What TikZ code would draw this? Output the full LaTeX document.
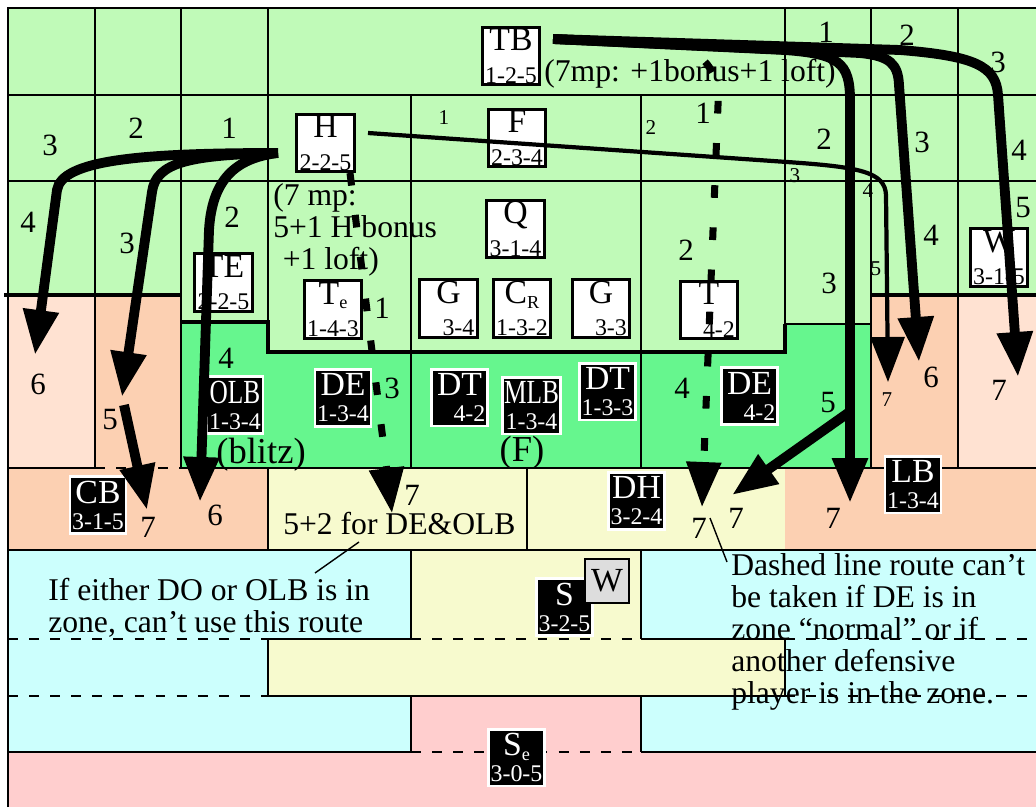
\documentclass[tikz,border=0pt]{standalone}
\usepackage{fontspec}
\setmainfont{Liberation Serif}
\usetikzlibrary{arrows.meta}

\definecolor{cturf}{RGB}{192,250,184}
\definecolor{cblitz}{RGB}{102,246,142}
\definecolor{cpeach}{RGB}{255,226,210}
\definecolor{csalmon}{RGB}{252,208,178}
\definecolor{ccream}{RGB}{247,250,206}
\definecolor{csky}{RGB}{204,255,253}
\definecolor{crose}{RGB}{255,206,206}
\definecolor{cwgray}{RGB}{221,221,221}

\newcommand\boxtop{\fontsize{24}{24}\selectfont}
\newcommand\subidx[1]{\raisebox{-0.3ex}{\fontsize{13}{13}\selectfont #1}}
\newcommand\narrow[1]{\scalebox{0.75}[1]{#1}}

\begin{document}
\begin{tikzpicture}[x=0.025cm, y=-0.025cm,
  zline/.style  = {line width=1.5pt},
  fence/.style  = {line width=3pt},
  zdash/.style  = {line width=1.5pt, dash pattern=on 7pt off 8pt},
  obox/.style   = {draw, line width=2pt, fill=white, minimum width=1.43cm,
                   minimum height=1.43cm, inner sep=1pt, align=center,
                   font=\fontsize{17}{23}\selectfont},
  dbox/.style   = {obox, draw=white, fill=black, text=white, minimum width=1.4cm,
                   minimum height=1.42cm, font=\fontsize{17}{18.5}\selectfont},
  num/.style    = {font=\fontsize{22}{23}\selectfont, inner sep=0pt},
  sml/.style    = {font=\fontsize{15}{17}\selectfont, inner sep=0pt},
  memo/.style   = {font=\fontsize{22.5}{22.8}\selectfont, align=left, inner sep=0pt},
  route/.style  = {line width=7pt, -{Triangle[width=24pt,length=32pt]}},
  thin/.style   = {line width=3pt, -{Triangle[width=24pt,length=32pt]}},
  dashroute/.style = {line width=5pt, dash pattern=on 9pt off 21pt,
                   -{Triangle[width=24pt,length=32pt]}}
]
  \useasboundingbox (0,0) rectangle (1036,807);

  % Zones
  \fill[cturf] (8,8) -- (1036,8) -- (1036,295) -- (871,295) -- (871,324) -- (785,324)
    -- (785,352) -- (268,352) -- (268,322) -- (181,322) -- (181,295) -- (8,295) -- cycle;
  \fill[cblitz] (181,322) -- (268,322) -- (268,352) -- (785,352) -- (785,324)
    -- (871,324) -- (871,468) -- (181,468) -- cycle;
  \fill[cpeach] (8,295) rectangle (95,468);
  \fill[csalmon] (95,295) rectangle (181,468);
  \fill[csalmon] (871,295) rectangle (958,468);
  \fill[cpeach] (958,295) rectangle (1036,468);
  \fill[csalmon] (8,468) rectangle (268,550);
  \fill[ccream] (268,468) rectangle (785,550);
  \fill[csalmon] (785,468) rectangle (1036,550);
  \fill[csky] (8,550) -- (411,550) -- (411,639) -- (268,639) -- (268,696) -- (411,696)
    -- (411,752) -- (8,752) -- cycle;
  \fill[ccream] (411,550) rectangle (641,639);
  \fill[ccream] (268,639) rectangle (785,696);
  \fill[csky] (641,550) -- (1036,550) -- (1036,752) -- (641,752) -- (641,696) -- (785,696)
    -- (785,639) -- (641,639) -- cycle;
  \fill[crose] (411,696) rectangle (641,752);
  \fill[crose] (8,752) rectangle (1036,807);

  % Notes
  \node[memo, anchor=north west] (ifn) at (48,578) {If either DO or OLB is in\\zone, can’t use this route};
  \node[memo, anchor=north west] (dln) at (731,553) {Dashed line route can’t\\be taken if DE is in\\zone “normal” or if\\another defensive\\player is in the zone.};
  \node[memo, anchor=north west] (hmp) at (273,183) {(7 mp:\\5+1 H bonus\\\hspace{0.3em}+1 loft)};
  \node[memo, anchor=base west] (tbmp) at (544,82) {(7mp: +1bonus+1 loft)};
  \node[memo, anchor=base west] (plus) at (283,534) {5+2 for DE\&OLB};
  \node[font=\fontsize{26}{28}\selectfont, inner sep=0pt] (blz) at (261,455) {(blitz)};
  \node[font=\fontsize{26}{28}\selectfont, inner sep=0pt] (fre) at (522,453) {(F)};

  % Grid
  \draw[zline] (8,807) -- (8,8) -- (1036,8);
  \draw[zline] (8,95) -- (1036,95) (8,181) -- (1036,181);
  \draw[zline] (95,8) -- (95,468) (181,8) -- (181,468) (268,8) -- (268,322)
    (411,95) -- (411,468) (641,95) -- (641,468) (785,8) -- (785,324)
    (871,8) -- (871,468) (958,8) -- (958,468);
  \draw[zline] (785,324) -- (871,324);
  \draw[fence] (181,322) -- (268,322) -- (268,352) -- (785,352) -- (785,324);
  \draw[fence] (4,295) -- (181,295) (871,295) -- (1036,295);
  \draw[zline] (8,468) -- (95,468) (181,468) -- (1036,468);
  \draw[zdash] (95,468) -- (181,468);
  \draw[zline] (268,468) -- (268,550) (527,468) -- (527,550);
  \draw[zline] (8,550) -- (1036,550);
  \draw[zline] (411,550) -- (411,639) (641,550) -- (641,639);
  \draw[zdash] (8,639) -- (268,639) (411,639) -- (641,639) (785,639) -- (1036,639);
  \draw[zline] (268,639) -- (411,639) (641,639) -- (785,639);
  \draw[zline] (268,639) -- (268,696) (785,639) -- (785,696);
  \draw[zdash] (8,696) -- (268,696) (785,696) -- (1036,696);
  \draw[zline] (268,696) -- (785,696);
  \draw[zline] (411,696) -- (411,752) (641,696) -- (641,752);
  \draw[zline] (8,752) -- (411,752) (641,752) -- (1036,752);
  \draw[zdash] (411,752) -- (641,752);

  % Zone numbers
  \foreach \px/\py/\t [count=\i] in {826/32/1, 907/35/2, 998/62/3, 50/145/3, 136/128/2,
      229/128/1, 703/113/1, 824/139/2, 922/142/3, 1019/150/4, 28/222/4, 127/243/3,
      232/217/2, 686/250/2, 931/235/4, 1023/208/5, 829/283/3, 382/308/1, 38/384/6,
      110/420/5, 226/358/4, 392/388/3, 682/388/4, 828/403/5, 931/377/6, 999/390/7,
      148/527/7, 215/515/6, 412/495/7, 699/528/7, 736/518/7, 833/518/7}
    \node[num] (z\i) at (\px,\py) {\t};
  \foreach \px/\py/\t [count=\i] in {444/118/1, 651/128/2, 795/176/3, 868/191/4,
      876/269/5, 887/400/7}
    \node[sml] (s\i) at (\px,\py) {\t};

  % Offense
  \node[obox] (tb)  at (511,56)    {\boxtop TB\\1-2-5};
  \node[obox] (hb)  at (325.5,143) {\boxtop H\\2-2-5};
  \node[obox] (fb)  at (517,138)   {\boxtop F\\2-3-4};
  \node[obox] (qb)  at (515.5,229) {\boxtop Q\\3-1-4};
  \node[obox] (te)  at (223.5,282.5) {\boxtop TE\\2-2-5};
  \node[obox] (tel) at (333,309.5) {\boxtop T\subidx{e}\\1-4-3};
  \node[obox] (gl)  at (448.5,308.5) {\boxtop G\\\hphantom{1-}3-4};
  \node[obox] (cr)  at (522,308.5) {\boxtop C\subidx{R}\\1-3-2};
  \node[obox] (gr)  at (601,308.5) {\boxtop G\\\hphantom{1-}3-3};
  \node[obox] (tr)  at (709,310)   {\boxtop T\\\hphantom{1-}4-2};
  \node[obox] (wr)  at (999,257.5) {\boxtop W\\3-1-5};

  % Defense
  \node[dbox] (olb) at (235,405)     {\boxtop \narrow{OLB}\\1-3-4};
  \node[dbox] (del) at (343,398)     {\boxtop DE\\1-3-4};
  \node[dbox] (dtl) at (459.5,397.5) {\boxtop DT\\\hphantom{1-}4-2};
  \node[dbox] (mlb) at (531.5,405.5) {\boxtop \narrow{MLB}\\1-3-4};
  \node[dbox] (dtr) at (607.5,391.5) {\boxtop DT\\1-3-3};
  \node[dbox] (der) at (749.5,396)   {\boxtop DE\\\hphantom{1-}4-2};
  \node[dbox] (cb)  at (98,505)      {\boxtop CB\\3-1-5};
  \node[dbox] (dh)  at (636.5,501)   {\boxtop DH\\3-2-4};
  \node[dbox] (lb)  at (913,484.5)   {\boxtop LB\\1-3-4};
  \node[dbox] (sf)  at (564.5,607)   {\boxtop S\\3-2-5};
  \node[obox, fill=cwgray, minimum width=1.1cm, minimum height=1.1cm] (wg) at (607,581) {\boxtop W};
  \node[dbox] (se)  at (516.5,757.5) {\boxtop S\subidx{e}\\3-0-5};

  % Route points
  \coordinate (hl)  at (278,153);
  \coordinate (hr)  at (368,133);
  \coordinate (hd)  at (350,173);
  \coordinate (tbr) at (553,39);
  \coordinate (td)  at (668,43);
  \coordinate (a6)  at (35,355);
  \coordinate (a5)  at (122,397);
  \coordinate (b5)  at (124,405);
  \coordinate (b7)  at (147,510);
  \coordinate (a6b) at (200,502);
  \coordinate (a7)  at (888,382);
  \coordinate (a7b) at (850,503);
  \coordinate (k5)  at (848,413);
  \coordinate (a7c) at (732,495);
  \coordinate (a6c) at (919,362);
  \coordinate (a7d) at (1018,377);
  \coordinate (a7e) at (392,513);
  \coordinate (a7f) at (702,507);
  \coordinate (ifp) at (315,573);
  \coordinate (plp) at (359,542);
  \coordinate (dlp) at (727,562);
  \coordinate (dhp) at (710,518);

  % Runs
  \draw[route] (hl) .. controls (140,153) and (62,160) .. (57,190) -- (a6);
  \draw[route] (hl) .. controls (190,155) and (156,162) .. (152,192) -- (a5);
  \draw[route] (b5) -- (b7);
  \draw[route] (hl) .. controls (235,158) and (212,180) .. (209,230) -- (a6b);
  \draw[thin]  (hr) -- (787,162) .. controls (860,167) and (885,172) .. (886,195) -- (a7);
  \draw[route] (tbr) -- (785,50) .. controls (838,54) and (850,62) .. (850,100) -- (a7b);
  \draw[route] (k5) -- (a7c);
  \draw[route] (tbr) -- (860,53) .. controls (890,56) and (898,64) .. (899,85) -- (a6c);
  \draw[route] (tbr) -- (900,50) .. controls (975,56) and (996,66) .. (998,95) -- (a7d);
  \draw[dashroute] (hd) -- (a7e);
  \draw[dashroute] (td) .. controls (705,52) and (719,70) .. (718,105) -- (a7f);

  % Note pointers
  \draw[line width=1pt] (ifp) -- (plp);
  \draw[line width=1pt] (dlp) -- (dhp);
\end{tikzpicture}
\end{document}
